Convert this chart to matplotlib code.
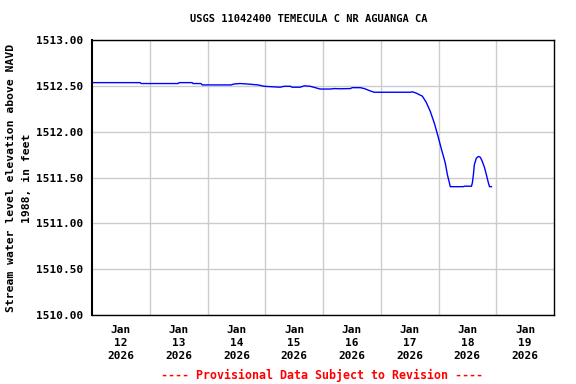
import matplotlib
matplotlib.use("Agg")
import matplotlib.pyplot as plt
import numpy as np

# hours since 2026-01-12 00:00 and water level elevation (ft)
hours = [0, 20, 20.4, 35.8, 36.2, 41.6, 42, 45.3, 45.8, 57.8, 59, 61.6, 64.5, 69, 71.5,
         78.2, 79.9, 82.4, 83.2, 86.5, 88.2, 90.7, 92.8, 94.8, 99, 100.7, 103.2, 107.3,
         108.2, 111.5, 113.2, 115.6, 117.3, 132.3, 133.1, 134.8, 137.3, 138.9, 140.6,
         142.3, 143.9, 145.2, 146.8, 147.7, 148.5, 148.9, 154.3, 154.8, 157.7, 158.1,
         158.5, 158.9, 159.7, 160.6, 161.4, 162.2, 163.1, 163.9, 164.7, 165.2, 166]
elev = [1512.535, 1512.535, 1512.525, 1512.525, 1512.535, 1512.535, 1512.525, 1512.525,
        1512.51, 1512.51, 1512.52, 1512.525, 1512.52, 1512.51, 1512.495, 1512.485,
        1512.495, 1512.495, 1512.485, 1512.485, 1512.5, 1512.495, 1512.48, 1512.465,
        1512.465, 1512.47, 1512.468, 1512.47, 1512.48, 1512.48, 1512.47, 1512.445,
        1512.43, 1512.43, 1512.435, 1512.42, 1512.387, 1512.32, 1512.22, 1512.09,
        1511.94, 1511.81, 1511.66, 1511.53, 1511.445, 1511.40, 1511.40, 1511.405,
        1511.405, 1511.445, 1511.53, 1511.64, 1511.71, 1511.73, 1511.72, 1511.675,
        1511.61, 1511.53, 1511.445, 1511.40, 1511.40]

day_labels = ["Jan\n12\n2026", "Jan\n13\n2026", "Jan\n14\n2026", "Jan\n15\n2026",
              "Jan\n16\n2026", "Jan\n17\n2026", "Jan\n18\n2026", "Jan\n19\n2026"]
y_ticks = [1510.0, 1510.5, 1511.0, 1511.5, 1512.0, 1512.5, 1513.0]

mono = {'family': 'DejaVu Sans Mono', 'weight': 'bold', 'size': 8}

fig = plt.figure(figsize=(5.76, 3.84), dpi=100)
ax = fig.add_axes([92/576, 1-315/384, (554-92)/576, (315-40)/384])

days = np.array(hours) / 24.0
ax.plot(days, elev, color='blue', lw=1)

ax.set_xlim(0, 8)
ax.set_ylim(1510, 1513)
ax.set_xticks(np.arange(len(day_labels)) + 0.5)
ax.set_xticklabels(day_labels, fontdict=mono, linespacing=1.4)
ax.set_xticks(np.arange(1, 8), minor=True)
ax.set_yticks(y_ticks)
ax.set_yticklabels(['%.2f' % v for v in y_ticks], fontdict=mono)
ax.tick_params(axis='x', which='both', length=0, pad=7)
ax.tick_params(axis='y', which='both', length=0, pad=6)
ax.grid(True, which='minor', axis='x', color='#cccccc', lw=1)
ax.grid(True, which='major', axis='y', color='#cccccc', lw=1)
ax.set_axisbelow(True)
for s in ax.spines.values():
    s.set_color('black')
    s.set_linewidth(1)
ax.spines['left'].set_linewidth(1.5)

fig.text(19/576, 1-178/384, 'Stream water level elevation above NAVD\n1988, in feet',
         rotation=90, ha='center', va='center', multialignment='center',
         family='DejaVu Sans Mono', weight='bold', size=8.2, linespacing=1.65)

fig.text(309/576, 1-19/384, 'USGS 11042400 TEMECULA C NR AGUANGA CA', ha='center', va='center',
         family='DejaVu Sans Mono', weight='bold', size=7.5)
fig.text(322/576, 1-375/384, '---- Provisional Data Subject to Revision ----', ha='center',
         va='center', color='red', family='DejaVu Sans Mono', weight='bold', size=8.4)

fig.savefig('out.png', dpi=100)
